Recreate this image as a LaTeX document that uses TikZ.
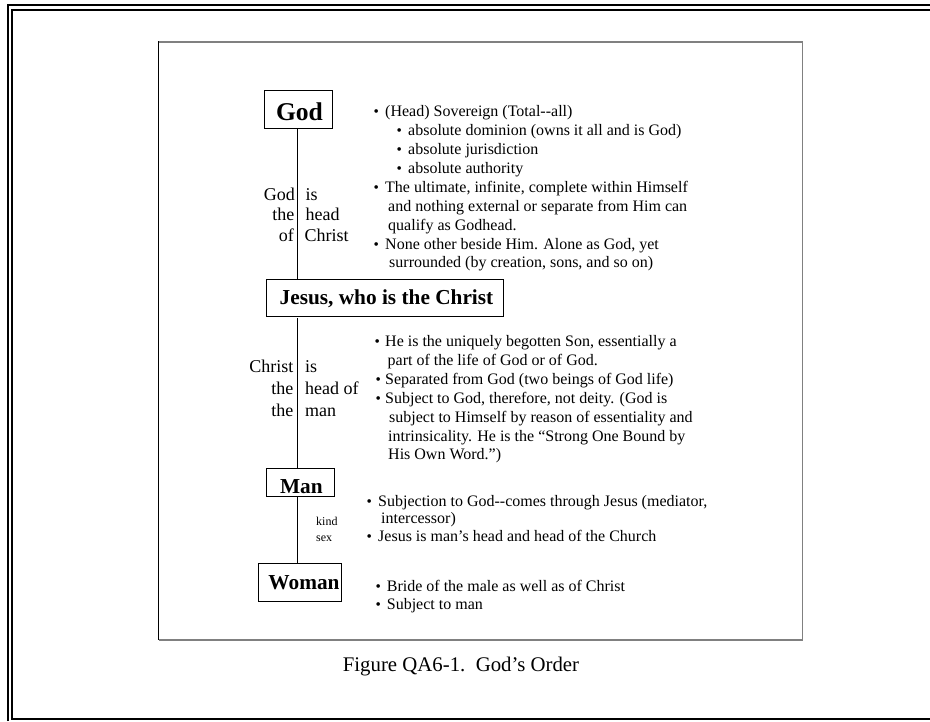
\documentclass[tikz,border=0pt]{standalone}
\usepackage{fontspec}
\setmainfont{Liberation Serif}
\usepackage{graphicx}
\newcommand{\bl}[1][10pt]{\makebox[#1][l]{\scalebox{0.95}{•}}}
\tikzset{
  box/.style={draw, line width=0.8pt, inner sep=0pt, font=\bfseries\fontsize{21.3}{24}\selectfont, text depth=0pt},
  txt/.style={anchor=base west, inner sep=0pt, font=\fontsize{16}{19}\selectfont},
  lblR/.style={anchor=base east, inner sep=0pt, font=\fontsize{18}{21}\selectfont},
  lblL/.style={anchor=base west, inner sep=0pt, font=\fontsize{18}{21}\selectfont},
  small/.style={anchor=base west, inner sep=0pt, font=\fontsize{12}{14}\selectfont},
  conn/.style={line width=0.8pt},
  frameline/.style={line width=2pt},
}
\begin{document}
\begin{tikzpicture}[x=1pt,y=-1pt]
\useasboundingbox (0,0) rectangle (930,721);
% outer double frame (right and bottom parts lie beyond the page)
\draw[frameline] (8,721) -- (8,5) -- (930,5);
\draw[frameline] (930,10) -- (12,10) -- (12,719) -- (930,719);
% inner framed panel
\draw[line width=1.5pt, gray] (158.7,42) -- (802.7,42) -- (802.7,640) -- (158.7,640);
\draw[line width=1pt, black] (158.7,41.3) -- (158.7,640);

% boxes
\node[box, minimum width=68pt, minimum height=38.3pt, font=\bfseries\fontsize{25.6}{28}\selectfont, text height=21.6pt] (god) at (298,109.2) {\hspace{3pt}God};
\node[box, minimum width=237.3pt, minimum height=37.7pt, text height=12.8pt] (jesus) at (384.7,297.9) {\hspace{3.6pt}Jesus, who is the Christ};
\node[box, minimum width=68pt, minimum height=28.4pt, text height=21.6pt] (man) at (300,482.5) {\hspace{2.6pt}Man};
\node[box, minimum width=83pt, minimum height=38pt, text height=14pt] (woman) at (300.1,582.3) {\hspace{7.8pt}Woman};

% connectors
\coordinate (L) at (297.3,0);
\draw[conn] (god.south -| L) -- (jesus.north -| L);
\draw[conn] ([yshift=-1.3pt]jesus.south -| L) -- (man.north -| L);
\draw[conn] (man.south -| L) -- (woman.north -| L);

% left labels
\node[lblR] (l1) at (295,200) {God};
\node[lblL] (l2) at (305.5,200) {is};
\node[lblR] (l3) at (294.5,220.5) {the};
\node[lblL] (l4) at (305.5,220.5) {head};
\node[lblR] (l5) at (294,241.5) {of};
\node[lblL] (l6) at (304.5,241.5) {Christ};

\node[lblR] (m1) at (293.5,372) {Christ};
\node[lblL] (m2) at (305,372) {is};
\node[lblR] (m3) at (293.5,394) {the};
\node[lblL] (m4) at (305,394) {head of};
\node[lblR] (m5) at (293.5,416) {the};
\node[lblL] (m6) at (305,416) {man};

\node[small] (k1) at (316,525) {kind};
\node[small] (k2) at (316,541) {sex};

% God block text
\node[txt] (a1) at (373.5,116.7) {\bl[11.5pt](Head) Sovereign (Total-{}-all)};
\node[txt] (a2) at (396.5,135.7) {\bl[11.5pt]absolute dominion (owns it all and is God)};
\node[txt] (a3) at (396.5,154.5) {\bl[11.5pt]absolute jurisdiction};
\node[txt] (a4) at (396.5,173) {\bl[11.5pt]absolute authority};
\node[txt] (a5) at (373.5,192) {\bl[11.5pt]The ultimate, infinite, complete within Himself};
\node[txt] (a6) at (388,211) {and nothing external or separate from Him can};
\node[txt] (a7) at (388,230) {qualify as Godhead.};
\node[txt] (a8) at (373.5,249) {\bl[11.5pt]None other beside Him. Alone as God, yet};
\node[txt] (a9) at (389,267.7) {surrounded (by creation, sons, and so on)};

% Jesus block text
\node[txt] (b1) at (374.5,346) {\bl[10.5pt]He is the uniquely begotten Son, essentially a};
\node[txt] (b2) at (387.5,365) {part of the life of God or of God.};
\node[txt] (b3) at (375.5,384) {\bl[9.5pt]Separated from God (two beings of God life)};
\node[txt] (b4) at (375.5,403.3) {\bl[9.5pt]Subject to God, therefore, not deity. (God is};
\node[txt] (b5) at (389,422.3) {subject to Himself by reason of essentiality and};
\node[txt] (b6) at (388,441) {intrinsicality. He is the “Strong One Bound by};
\node[txt] (b7) at (388,459.3) {His Own Word.”)};

% Man block text
\node[txt] (c1) at (366.5,506) {\bl[11.5pt]Subjection to God-{}-comes through Jesus (mediator,};
\node[txt] (c2) at (381,523.5) {intercessor)};
\node[txt] (c3) at (366.5,541) {\bl[11.5pt]Jesus is man’s head and head of the Church};

% Woman block text
\node[txt] (d1) at (375.5,591) {\bl[11.2pt]Bride of the male as well as of Christ};
\node[txt] (d2) at (375.5,609.3) {\bl[11.2pt]Subject to man};

% caption
\node[anchor=base west, inner sep=0pt, font=\fontsize{20.8}{24}\selectfont] (cap) at (342.7,671) {Figure QA6-1.\hspace{0.5em}God’s Order};
\end{tikzpicture}
\end{document}
